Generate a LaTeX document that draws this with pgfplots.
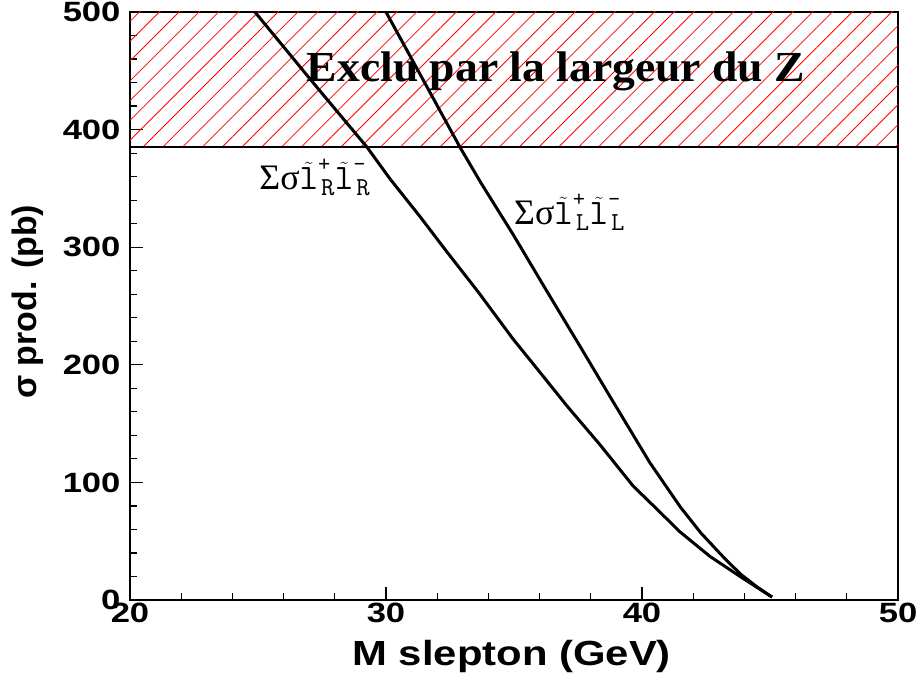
\documentclass[border=0pt]{standalone}
\usepackage{pgfplots}
\pgfplotsset{compat=1.18}
\usepackage{fontspec}
\usetikzlibrary{patterns.meta}
\setmainfont{Liberation Sans}
\newfontfamily\widesans[BoldFeatures={FakeStretch=1.24}]{Liberation Sans}
\newfontfamily\labsans[FakeStretch=1.2]{Liberation Sans}
\newfontfamily\serifb[BoldFeatures={FakeStretch=1.065}]{Liberation Serif}
\newfontfamily\seriff{Liberation Serif}
\newcommand\slep[2]{$\tilde{\mbox{\ttfamily l}}^{\mbox{\fontsize{24}{26}\selectfont\ttfamily #1}}_{\mbox{\kern3bp\fontsize{26}{28}\selectfont\ttfamily #2}}$}
\begin{document}
\begin{tikzpicture}
\path[use as bounding box] (-130bp,-86bp) rectangle (791bp,600bp);
\begin{axis}[
  at={(0,0)}, anchor=south west,
  scale only axis, width=768bp, height=588bp,
  xmin=20, xmax=50, ymin=0, ymax=500,
  xtick={20,30,40,50}, ytick={0,100,200,300,400,500},
  minor x tick num=4, minor y tick num=4,
  tick pos=left, tick align=inside,
  major tick length=13bp, minor tick length=7bp,
  axis line style={line width=1.8bp},
  every tick/.style={black, line width=1.2bp},
  /pgf/number format/assume math mode=true,
  ticklabel style={font=\widesans\bfseries\fontsize{28}{30}\selectfont},
  yticklabel style={xshift=-6bp},
  xlabel={M slepton (GeV)},
  xlabel style={font=\labsans\bfseries\fontsize{35}{38}\selectfont, at={(axis description cs:0.497,-0.068)}, anchor=north, inner sep=0pt},
  ylabel={σ prod. (pb)},
  ylabel style={font=\bfseries\fontsize{34}{36}\selectfont, at={(axis description cs:-0.133,0.507)}, anchor=center, inner sep=0pt},
]
\addplot[draw=none, pattern={Lines[angle=45,distance=14bp,line width=0.8bp]}, pattern color=red]
  coordinates {(20,385) (50,385) (50,500) (20,500)} -- cycle;
\addplot[black, line width=2.4bp] coordinates {(20,385) (50,385)};
% right-handed sleptons
\addplot[black, line width=3bp] coordinates {
 (24.88,500) (27.3,436) (29.26,385) (30.16,358) (31.33,326) (32.38,296)
 (33.6,262) (34.96,222) (36.0,194) (37.07,165) (38.36,132) (39.65,97)
 (40.5,79) (41.48,58) (42.66,37) (43.83,20) (45.08,2.5)};
% left-handed sleptons
\addplot[black, line width=3bp] coordinates {
 (30.0,500) (32.89,385) (33.7,355) (34.96,311) (36.3,262) (37.6,215)
 (38.75,173) (40.3,117) (41.5,79) (42.3,57) (43.2,36) (43.85,22)
 (44.5,11) (45.08,2.5)};
\node[anchor=base, inner sep=0pt, font=\serifb\bfseries\fontsize{43}{45}\selectfont] at (axis cs:36.64,441) {Exclu par la largeur du Z};
\node[anchor=base west, inner sep=0pt, font=\fontsize{36}{38}\selectfont] at (axis cs:25.05,349)
  {{\seriff Σσ}\slep{+}{R}\slep{-}{R}};
\node[anchor=base west, inner sep=0pt, font=\fontsize{36}{38}\selectfont] at (axis cs:35.0,319)
  {{\seriff Σσ}\slep{+}{L}\slep{-}{L}};
\end{axis}
\end{tikzpicture}
\end{document}
